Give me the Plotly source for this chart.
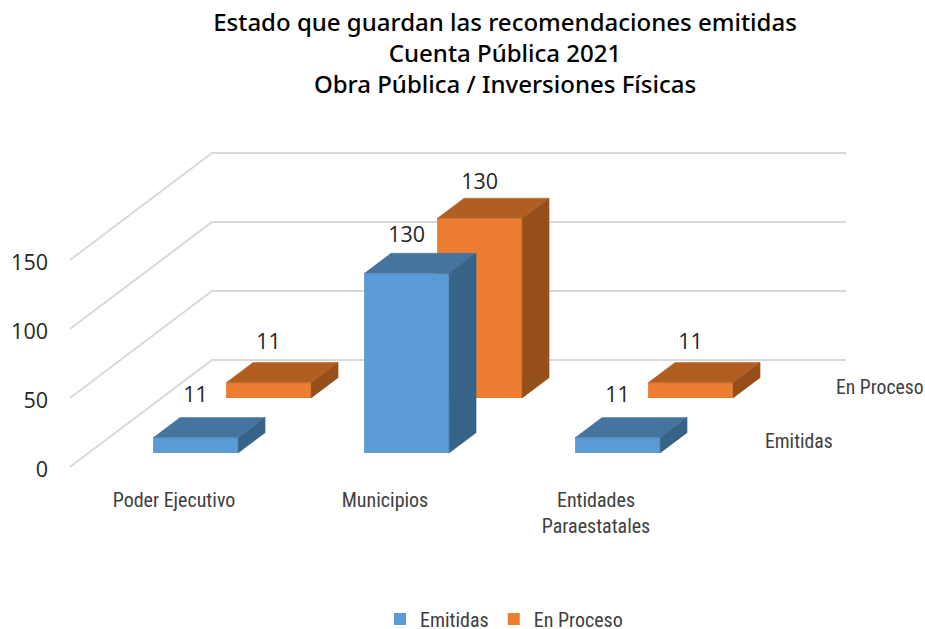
import plotly.graph_objects as go

categories = ["Poder Ejecutivo", "Municipios", "Entidades<br>Paraestatales"]
emitidas = [11, 130, 11]
en_proceso = [11, 130, 11]
series_names = ["Emitidas", "En Proceso"]
value_ticks = [0, 50, 100, 150]

W, H = 925, 629
L, B = 49, 143
X0_PX, UNIT_PX = 174.0, 211.0     # pixel of category 0, pixels per category
Y0_PX, VAL_PX = 467.0, 1.38       # pixel of value 0, pixels per value unit
DX = 142.0 / UNIT_PX              # oblique offset of full depth, x units
DY = 107.0 / VAL_PX               # oblique offset of full depth, value units
SHIFT = 3.0 / UNIT_PX
HALF = 42.5 / UNIT_PX
THICK = 0.19
ROW_D = {"Emitidas": 0.131, "En Proceso": 0.645}
ROW_LIFT = {"Emitidas": 21.0, "En Proceso": 19.0}
COLORS = {
    "Emitidas": ("#5B9BD5", "#44749F", "#386389"),
    "En Proceso": ("#ED7D31", "#B25E20", "#964F1B"),
}
LABEL_COLOR = "#404040"
NARROW = "Liberation Sans Narrow, Roboto Condensed, Roboto"
NUM = "Open Sans"


def proj(x, v, d):
    return x + d * DX, v + d * DY


fig = go.Figure()

# grid as shapes beneath the bars
gx_l, gx_r = (70 - X0_PX) / UNIT_PX, (704 - X0_PX) / UNIT_PX
for v in value_ticks:
    a = proj(gx_l, v, 0)
    b = proj(gx_l, v, 1)
    c = proj(gx_r, v, 1)
    fig.add_shape(type="path", layer="below", xref="x", yref="y",
                  path=f"M{a[0]},{a[1]} L{b[0]},{b[1]} L{c[0]},{c[1]}",
                  line=dict(color="#D9D9D9", width=2))

rows = [("En Proceso", en_proceso), ("Emitidas", emitidas)]


def poly(pts, color):
    xs, ys = zip(*pts)
    fig.add_trace(go.Scatter(x=list(xs) + [xs[0]], y=list(ys) + [ys[0]], mode="lines",
                             fill="toself", fillcolor=color, line=dict(color=color, width=0.5),
                             showlegend=False, hoverinfo="skip"))


for name, vals in rows:
    d = ROW_D[name]
    front, top, side = COLORS[name]
    centers = [i + SHIFT + d * DX for i in range(len(vals))]
    fig.add_trace(go.Bar(name=name, x=centers, y=vals, base=[d * DY] * len(vals),
                         width=2 * HALF, marker=dict(color=front, line=dict(width=0)),
                         hoverinfo="skip"))
    for i, v in enumerate(vals):
        xl, xr = i + SHIFT - HALF, i + SHIFT + HALF
        d2 = d + THICK
        poly([proj(xl, v, d), proj(xr, v, d), proj(xr, v, d2), proj(xl, v, d2)], top)
        poly([proj(xr, 0, d), proj(xr, v, d), proj(xr, v, d2), proj(xr, 0, d2)], side)
    # data labels
    ly = [v + (d + THICK) * DY + (ROW_LIFT[name] - 0.03 * v) / VAL_PX for v in vals]
    fig.add_trace(go.Scatter(x=centers, y=ly, mode="text", text=[str(v) for v in vals],
                             textposition="middle center", cliponaxis=False,
                             textfont=dict(family=NUM, size=21.5, color="#262626"),
                             showlegend=False, hoverinfo="skip"))

# depth axis labels
sx = {"Emitidas": 765, "En Proceso": 836}
sy = {"Emitidas": 443, "En Proceso": 389}
for name in series_names:
    fig.add_trace(go.Scatter(x=[(sx[name] - X0_PX) / UNIT_PX], y=[(Y0_PX - sy[name]) / VAL_PX],
                             mode="text", text=[name], textposition="middle right", cliponaxis=False,
                             textfont=dict(family=NARROW, size=19.7, color=LABEL_COLOR),
                             showlegend=False, hoverinfo="skip"))

fig.update_layout(
    width=W, height=H, autosize=False,
    paper_bgcolor="white", plot_bgcolor="white",
    barmode="overlay",
    margin=dict(l=L, r=0, t=0, b=B),
    title=dict(
        text="Estado que guardan las recomendaciones emitidas<br>Cuenta Pública 2021<br>Obra Pública / Inversiones Físicas",
        x=505 / W, xanchor="center", xref="container", y=1 - 31 / H, yanchor="top", yref="container",
        font=dict(family="Noto Sans", size=24, color="#000000", weight=500)),
    xaxis=dict(range=[(L - X0_PX) / UNIT_PX, (W - X0_PX) / UNIT_PX], showgrid=False, zeroline=False,
               showline=False, tickmode="array", tickvals=list(range(len(categories))),
               ticktext=categories, ticks="", tickangle=0,
               tickfont=dict(family=NARROW, size=20, color=LABEL_COLOR)),
    yaxis=dict(range=[(Y0_PX - (H - B)) / VAL_PX, Y0_PX / VAL_PX], showgrid=False, zeroline=False,
               showline=False, tickmode="array", tickvals=value_ticks, ticks="", ticklabelshift=2,
               tickfont=dict(family=NUM, size=21.5, color="#262626")),
    legend=dict(orientation="h", traceorder="reversed", x=504 / W, xref="container", xanchor="center",
                y=1 - 619 / H, yref="container", yanchor="middle", bgcolor="rgba(0,0,0,0)",
                font=dict(family=NARROW, size=20, color=LABEL_COLOR)),
)

fig.write_html("out.html", default_width=f"{W}px", default_height=f"{H}px",
               config={"displayModeBar": False},
               post_script="document.body.style.margin='0';document.documentElement.style.overflow='hidden';")
